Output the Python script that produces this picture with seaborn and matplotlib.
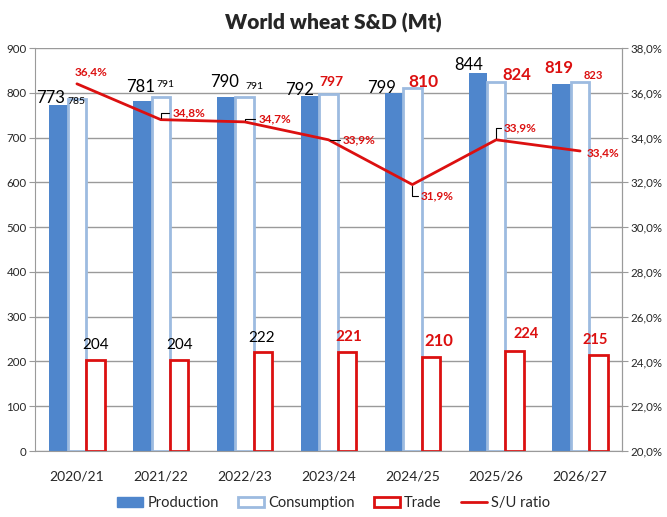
import numpy as np
import pandas as pd
import matplotlib
matplotlib.use("Agg")
import matplotlib.pyplot as plt
import matplotlib.ticker as ticker
from matplotlib.patches import Patch
from matplotlib.lines import Line2D
import seaborn as sns

# Data
years = ['2020/21', '2021/22', '2022/23', '2023/24', '2024/25', '2025/26', '2026/27']
production = [773, 781, 790, 792, 799, 844, 819]
consumption = [785, 791, 791, 797, 810, 824, 823]
trade = [204, 204, 222, 221, 210, 224, 215]
su_ratio = [36.4, 34.8, 34.7, 33.9, 31.9, 33.9, 33.4]

sns.set_style('white')
plt.rcParams['font.family'] = ['Lato', 'DejaVu Sans']

BLUE = '#4f86cc'
LIGHT = '#9dbbe0'
RED = '#dc1010'
GRID = '#9a9a9a'

df = pd.DataFrame({
    'year': years * 3,
    'value': production + consumption + trade,
    'series': ['Production'] * 7 + ['Consumption'] * 7 + ['Trade'] * 7,
})

fig = plt.figure(figsize=(6.67, 5.17), dpi=100)
ax = fig.add_axes([35 / 667, 66 / 517, 587 / 667, 403 / 517])

sns.barplot(data=df, x='year', y='value', hue='series',
            hue_order=['Production', 'Consumption', 'Trade'],
            width=0.66, gap=0, ax=ax, legend=False,
            palette=[BLUE, 'white', 'white'], saturation=1, errorbar=None)

styles = [(BLUE, BLUE, 0), ('white', LIGHT, 2.0), ('white', RED, 2.0)]
for cont, (fc, ec, lw) in zip(ax.containers, styles):
    for bar in cont:
        bar.set_facecolor(fc)
        bar.set_edgecolor(ec)
        bar.set_linewidth(lw)

ax.set_ylim(0, 900)
ax.set_xlim(-0.5, 6.5)
ax.yaxis.set_major_locator(ticker.MultipleLocator(100))
ax.grid(axis='y', color=GRID, lw=1)
ax.set_axisbelow(True)
ax.set_xlabel('')
ax.set_ylabel('')
ax.set_xticks(np.arange(7))
ax.set_xticklabels(years, fontsize=10)
ax.set_xticks(np.arange(-0.5, 7, 1), minor=True)
ax.tick_params(axis='x', which='major', length=0, pad=14)
ax.tick_params(axis='x', which='minor', length=5, color=GRID)
ax.tick_params(axis='y', length=4, color=GRID, labelsize=8.3, pad=2)
for s in ['left', 'bottom', 'right']:
    ax.spines[s].set_color(GRID)
ax.spines['top'].set_visible(False)

# S/U ratio on secondary axis
ax2 = ax.twinx()
sns.lineplot(x=np.arange(7), y=su_ratio, ax=ax2, color=RED, lw=2)
ax2.set_ylim(20, 38)
ax2.set_xlim(-0.5, 6.5)
ax2.yaxis.set_major_locator(ticker.MultipleLocator(2))
ax2.yaxis.set_major_formatter(ticker.FuncFormatter(lambda v, p: f"{v:.1f}%".replace('.', ',')))
ax2.tick_params(axis='y', length=4, color=GRID, labelsize=8.3, pad=2)
for s in ax2.spines.values():
    s.set_visible(False)
ax2.spines['right'].set_visible(True)
ax2.spines['right'].set_color(GRID)

off = 0.22
# label offsets in pixels and text styles
prod_off = [(-8, 7), (-2, 14), (-2, 15), (-10, 6), (-12, 5), (-9, 8), (-3, 16)]
prod_sty = [('black', 12, 'normal')] * 6 + [(RED, 12, 'bold')]
cons_off = [(0, -2), (5, 12), (10, 10), (3, 12), (11, 6), (21, 7), (13, 7)]
cons_sty = [('black', 7.5, 'normal')] * 3 + [(RED, 10, 'bold'), (RED, 12.5, 'bold'),
                                              (RED, 12, 'bold'), (RED, 8, 'bold')]
trade_off = [(0, 15), (0, 15), (-1, 14), (2, 15), (8, 16), (11, 17), (-3, 15)]
trade_sty = [('black', 11, 'normal')] * 3 + [(RED, 11, 'bold'), (RED, 12, 'bold'),
                                              (RED, 10.5, 'bold'), (RED, 10.5, 'bold')]

for i in range(7):
    for vals, sh, offs, sty in [(production, -off, prod_off, prod_sty),
                                (consumption, 0, cons_off, cons_sty),
                                (trade, off, trade_off, trade_sty)]:
        c, fs, fw = sty[i]
        ax.annotate(str(vals[i]), (i + sh, vals[i]), xytext=offs[i],
                    textcoords='offset pixels', ha='center', va='center',
                    color=c, fontsize=fs, fontweight=fw, zorder=5)

su_off = [(14, 12), (28, 7), (30, 3), (31, 0), (25, -11), (24, 12), (23, -2)]
leader = [False, True, True, True, True, True, False]
for i in range(7):
    lab = f"{su_ratio[i]:.1f}%".replace('.', ',')
    kw = {}
    if leader[i]:
        kw['arrowprops'] = dict(arrowstyle='-', color='black', lw=0.8,
                                shrinkA=0, shrinkB=1,
                                connectionstyle='angle,angleA=0,angleB=90,rad=0')
    ax2.annotate(lab, (i, su_ratio[i]), xytext=su_off[i], textcoords='offset pixels',
                 ha='center', va='center', color=RED, fontsize=8.5,
                 fontweight='bold', zorder=6, **kw)

fig.suptitle('World wheat S&D (Mt)', fontsize=15, fontweight='heavy',
             y=1 - 23 / 517, va='center')

handles = [Patch(facecolor=BLUE, edgecolor=BLUE),
           Patch(facecolor='white', edgecolor=LIGHT, lw=2),
           Patch(facecolor='white', edgecolor=RED, lw=2),
           Line2D([0], [0], color=RED, lw=2)]
fig.legend(handles, ['Production', 'Consumption', 'Trade', 'S/U ratio'],
           loc='center', bbox_to_anchor=(0.5, 14 / 517), ncol=4, frameon=False,
           fontsize=10.5, handlelength=1.8, handletextpad=0.3, columnspacing=1.3)

fig.savefig('out.png', dpi=100)
